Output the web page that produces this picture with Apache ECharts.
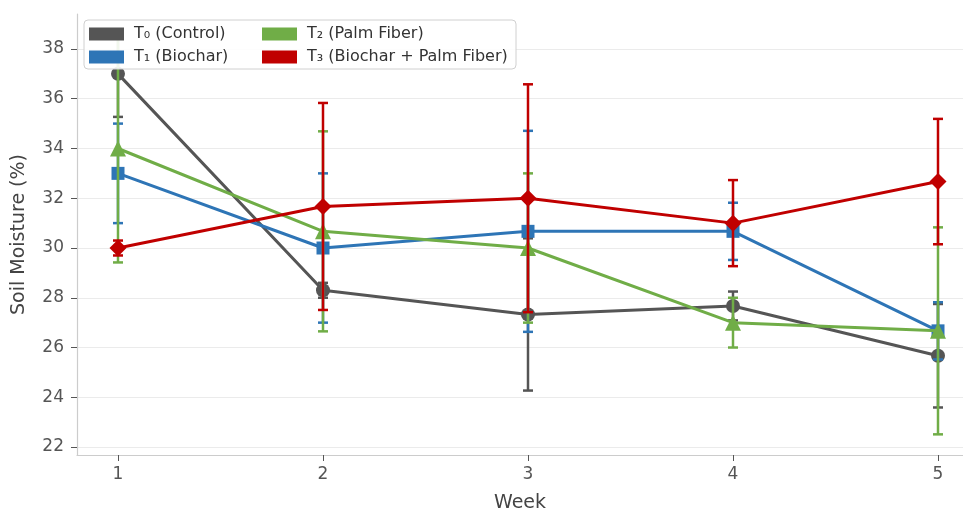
<!DOCTYPE html>
<html>
<head>
<meta charset="utf-8">
<script src="https://cdn.jsdelivr.net/npm/echarts@6/dist/echarts.min.js"></script>
<style>
  html, body { margin: 0; padding: 0; background: #fff; }
  #chart { width: 963px; height: 513px; }
</style>
</head>
<body>
<div id="chart"></div>
<script>
// data
const weeks = [1, 2, 3, 4, 5];
const yTicks = [22, 24, 26, 28, 30, 32, 34, 36, 38];

const names = ['T₀ (Control)', 'T₁ (Biochar)', 'T₂ (Palm Fiber)', 'T₃ (Biochar + Palm Fiber)'];
const t0 = [37.0, 28.3, 27.33, 27.67, 25.67];
const t0Err = [1.73, 0.3, 3.06, 0.58, 2.08];
const t1 = [33.0, 30.0, 30.67, 30.67, 26.67];
const t1Err = [2.0, 3.0, 4.04, 1.15, 1.15];
const t2 = [34.0, 30.67, 30.0, 27.0, 26.67];
const t2Err = [4.58, 4.02, 3.0, 1.0, 4.16];
const t3 = [30.0, 31.67, 32.0, 31.0, 32.67];
const t3Err = [0.3, 4.16, 4.58, 1.73, 2.52];

const colors = ['#555555', '#2e75b6', '#70ad47', '#c00000'];
const symbols = ['circle', 'rect', 'triangle', 'diamond'];
const symbolSizes = [14, 13, 16, 17];

const FONT = 'DejaVu Sans';

function errorSeries(idx, means, errs) {
  return {
    name: names[idx] + ' err',
    type: 'custom',
    z: 2 + idx * 2,
    silent: true,
    data: weeks.map((w, i) => [w, means[i] - errs[i], means[i] + errs[i]]),
    encode: { x: 0, y: [1, 2] },
    renderItem: function (params, api) {
      const x = api.value(0);
      const lo = api.coord([x, api.value(1)]);
      const hi = api.coord([x, api.value(2)]);
      const hw = 5;
      const style = { stroke: colors[idx], lineWidth: 2.5 };
      return {
        type: 'group',
        children: [
          { type: 'line', shape: { x1: lo[0], y1: lo[1], x2: hi[0], y2: hi[1] }, style: style },
          { type: 'line', shape: { x1: hi[0] - hw, y1: hi[1], x2: hi[0] + hw, y2: hi[1] }, style: style },
          { type: 'line', shape: { x1: lo[0] - hw, y1: lo[1], x2: lo[0] + hw, y2: lo[1] }, style: style }
        ]
      };
    }
  };
}

function lineSeries(idx, means) {
  return {
    name: names[idx],
    type: 'line',
    z: 3 + idx * 2,
    data: weeks.map((w, i) => [w, means[i]]),
    symbol: symbols[idx],
    symbolSize: symbolSizes[idx],
    showAllSymbol: true,
    lineStyle: { color: colors[idx], width: 3 },
    itemStyle: { color: colors[idx], borderWidth: 0 }
  };
}

const chart = echarts.init(document.getElementById('chart'));
const legendCommon = {
  orient: 'vertical',
  top: 25,
  icon: 'rect',
  itemWidth: 35,
  itemHeight: 13,
  itemGap: 5,
  padding: 0,
  z: 20,
  itemStyle: { borderWidth: 0 },
  textStyle: { fontFamily: FONT, fontSize: 16, color: '#333', lineHeight: 18, padding: [0, 0, 0, 5] }
};

const option = {
  animation: false,
  backgroundColor: '#fff',
  textStyle: { fontFamily: FONT },
  grid: { left: 77, right: 0, top: 14, bottom: 58, outerBoundsMode: 'none', containLabel: false },
  graphic: [{
    type: 'rect',
    z: 15,
    shape: { x: 84, y: 20, width: 432, height: 49, r: 4 },
    style: { fill: 'rgba(255,255,255,0.9)', stroke: '#d0d0d0', lineWidth: 1 }
  }],
  legend: [
    Object.assign({}, legendCommon, { left: 89, data: [names[0], names[1]] }),
    Object.assign({}, legendCommon, { left: 262, data: [names[2], names[3]] })
  ],
  xAxis: {
    type: 'value',
    min: 0.8,
    max: 0.8 + 886 / 205,
    name: 'Week',
    nameLocation: 'middle',
    nameGap: 39,
    nameTextStyle: { fontFamily: FONT, fontSize: 19, color: '#444' },
    axisLine: { show: true, lineStyle: { color: '#cccccc', width: 1.2 } },
    axisTick: { show: true, customValues: weeks, length: 6, lineStyle: { color: '#555' } },
    axisLabel: { customValues: weeks, fontFamily: FONT, fontSize: 17, color: '#555', margin: 11 },
    splitLine: { show: false }
  },
  yAxis: {
    type: 'value',
    min: 21.68,
    max: 38 + (49 - 14) / 24.9,
    name: 'Soil Moisture (%)',
    nameLocation: 'middle',
    nameGap: 48,
    nameTextStyle: { fontFamily: FONT, fontSize: 19, color: '#444' },
    axisLine: { show: true, lineStyle: { color: '#cccccc', width: 1.2 } },
    axisTick: { show: true, customValues: yTicks, length: 6, lineStyle: { color: '#555' } },
    axisLabel: { customValues: yTicks, fontFamily: FONT, fontSize: 17, color: '#555', margin: 13 },
    splitLine: { show: true, lineStyle: { color: '#ebebeb', width: 1 } }
  },
  series: [
    errorSeries(0, t0, t0Err), lineSeries(0, t0),
    errorSeries(1, t1, t1Err), lineSeries(1, t1),
    errorSeries(2, t2, t2Err), lineSeries(2, t2),
    errorSeries(3, t3, t3Err), lineSeries(3, t3)
  ]
};
chart.setOption(option);
</script>
</body>
</html>
